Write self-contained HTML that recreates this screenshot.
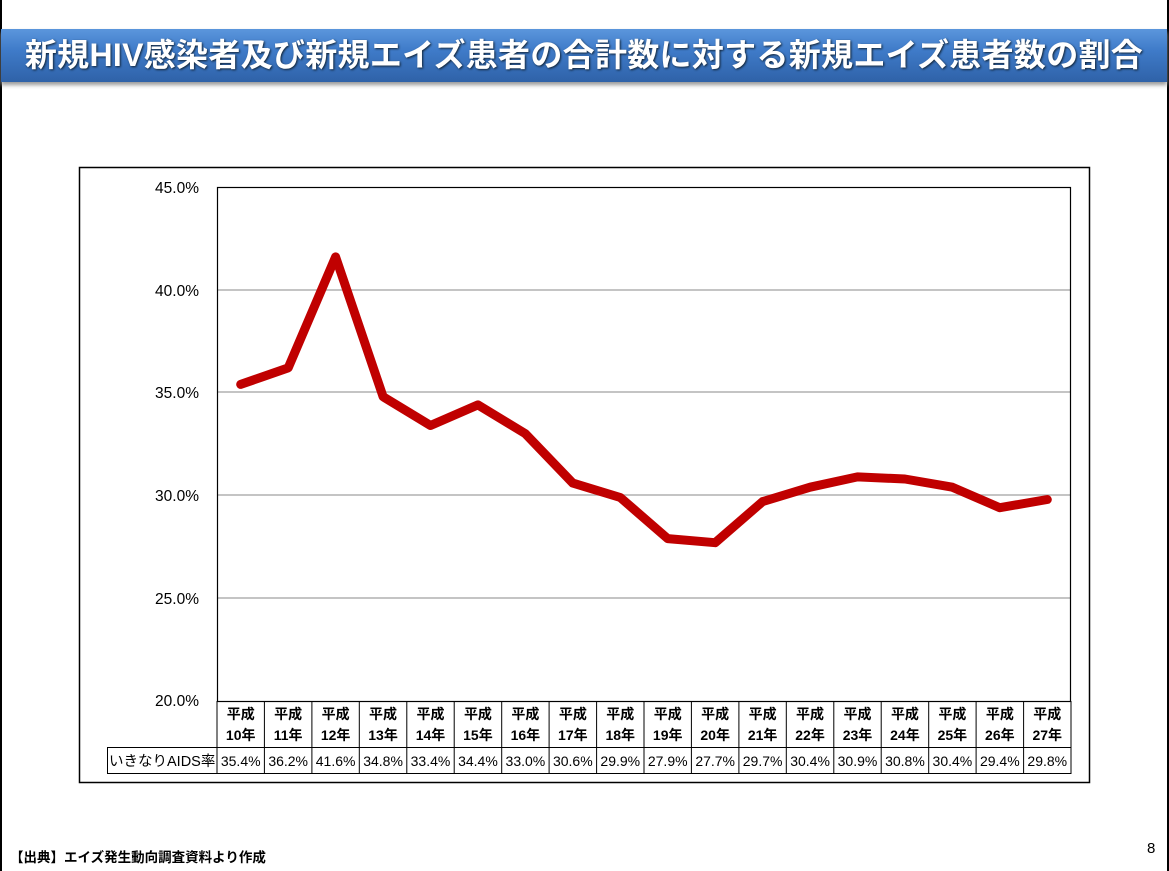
<!DOCTYPE html>
<html><head><meta charset="utf-8"><style>
body{margin:0;width:1169px;height:871px;background:#fff;position:relative;overflow:hidden;font-family:"Liberation Sans","Noto Sans CJK JP",sans-serif}
.vl{position:absolute;top:0;width:2px;height:871px;background:#000}
#title{position:absolute;left:1px;top:29px;width:1166px;height:53px;background:linear-gradient(#5b96dc,#3f7bc9 40%,#2f62a8);box-shadow:0 3px 4px #999;color:#fff;font-weight:bold;font-size:32px;line-height:53px;text-align:center;text-shadow:1px 1px 2px #123;letter-spacing:0.3px}
</style></head><body>
<div class="vl" style="left:0"></div><div class="vl" style="left:1167px"></div>
<div id="title">新規HIV感染者及び新規エイズ患者の合計数に対する新規エイズ患者数の割合</div>
<svg width="1169" height="871" style="position:absolute;left:0;top:0" font-family="Liberation Sans, Noto Sans CJK JP, sans-serif">
<rect x="79.5" y="167.5" width="1010" height="615" fill="none" stroke="#000" stroke-width="1.5"/>
<g stroke="#b0b0b0" stroke-width="1.5">
<line x1="217" x2="1071" y1="290" y2="290"/><line x1="217" x2="1071" y1="392" y2="392"/><line x1="217" x2="1071" y1="495" y2="495"/><line x1="217" x2="1071" y1="598" y2="598"/>
</g>
<rect x="217.5" y="187.5" width="853" height="514" fill="none" stroke="#000" stroke-width="1.2"/>
<g font-size="15.5" text-anchor="end" fill="#000">
<text x="199" y="193">45.0%</text><text x="199" y="296">40.0%</text><text x="199" y="398">35.0%</text><text x="199" y="501">30.0%</text><text x="199" y="604">25.0%</text><text x="199" y="706">20.0%</text>
</g>
<g id="tbl" stroke="#000" stroke-width="1" fill="none"></g>
<polyline id="ln" fill="none" stroke="#c00000" stroke-width="9" stroke-linejoin="round" stroke-linecap="round"/>
<g id="txt" font-size="14" text-anchor="middle"></g>
<text x="109" y="766" font-size="14.5">いきなりAIDS率</text>
<text x="10" y="862" font-size="13.5" font-weight="bold">【出典】エイズ発生動向調査資料より作成</text>
<text x="1147" y="853" font-size="15">8</text>
</svg>
<script>
var v=[35.4,36.2,41.6,34.8,33.4,34.4,33.0,30.6,29.9,27.9,27.7,29.7,30.4,30.9,30.8,30.4,29.4,29.8];
var w=(1071-217)/18,pts=[],t='',g='';
g+='<line x1="217" x2="217" y1="701" y2="774"/><line x1="107" x2="1071" y1="747.5" y2="747.5"/><line x1="107" x2="1071" y1="773.5" y2="773.5"/><line x1="107.5" x2="107.5" y1="747" y2="774"/>';
for(var i=0;i<18;i++){var cx=217+w*(i+.5),x=217+w*(i+1);
pts.push(cx.toFixed(1)+','+(701-(v[i]-20)/25*514).toFixed(1));
g+='<line x1="'+x.toFixed(1)+'" x2="'+x.toFixed(1)+'" y1="701" y2="774"/>';
t+='<text x="'+cx+'" y="719" font-weight="bold">平成</text><text x="'+cx+'" y="740" font-weight="bold">'+(10+i)+'年</text><text x="'+cx+'" y="766">'+v[i].toFixed(1)+'%</text>';}
document.getElementById('tbl').innerHTML=g;document.getElementById('txt').innerHTML=t;
document.getElementById('ln').setAttribute('points',pts.join(' '));
</script>
</body></html>
